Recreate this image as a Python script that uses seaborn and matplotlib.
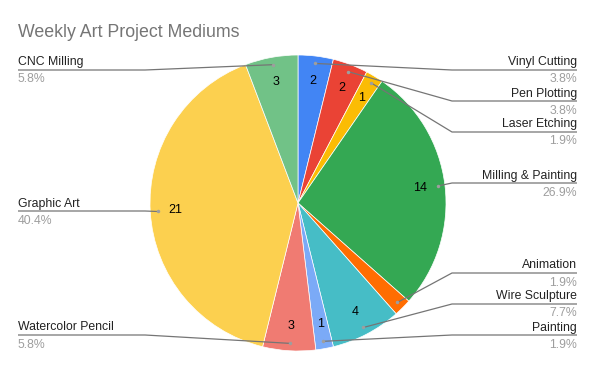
import numpy as np
import matplotlib
matplotlib.use('Agg')
import matplotlib.pyplot as plt
import seaborn as sns

sns.set_style('white')
plt.rcParams['font.family'] = ['Liberation Sans', 'DejaVu Sans']

# data
mediums = ['Vinyl Cutting', 'Pen Plotting', 'Laser Etching', 'Milling & Painting',
           'Animation', 'Wire Sculpture', 'Painting', 'Watercolor Pencil',
           'Graphic Art', 'CNC Milling']
counts = [2, 2, 1, 14, 1, 4, 1, 3, 21, 3]
value_labels = ['2', '2', '1', '14', '', '4', '1', '3', '21', '3']
colors = ['#4285F4', '#EA4335', '#FBBC04', '#34A853', '#FF6D01',
          '#46BDC6', '#7BAAF7', '#F07B72', '#FCD04F', '#71C287']

# layout of the callouts (side, y of the underline)
sides = ['R', 'R', 'R', 'R', 'R', 'R', 'R', 'L', 'L', 'L']
line_y = [70, 101, 132, 183, 273, 304, 335, 335, 211, 70]

fig = plt.figure(figsize=(5.96, 3.69), dpi=100)
ax = fig.add_axes([0, 0, 1, 1])

cx, cy, R = 298, 203, 148
wedges, _ = ax.pie(counts, colors=sns.color_palette(colors), center=(cx, cy), radius=R,
                   startangle=-90, counterclock=True,
                   wedgeprops=dict(edgecolor='white', linewidth=0.5))
ax.set_xlim(0, 596)
ax.set_ylim(369, 0)
ax.set_aspect('equal')
ax.axis('off')

total = sum(counts)
for w, name, n, vl, side, ly in zip(wedges, mediums, counts, value_labels, sides, line_y):
    mid = np.deg2rad((w.theta1 + w.theta2) / 2)
    # value inside slice
    if vl:
        ax.text(cx + 0.83 * R * np.cos(mid), cy + 0.83 * R * np.sin(mid), vl,
                ha='center', va='center', fontsize=9, color='#000000')
    # callout
    dx, dy = cx + 0.95 * R * np.cos(mid), cy + 0.95 * R * np.sin(mid)
    if side == 'R':
        xs = [dx, 452, 577]
        tx, ha = 577, 'right'
    else:
        xs = [dx, 145, 18]
        tx, ha = 18, 'left'
    ax.plot(xs, [dy, ly, ly], color='#757575', lw=0.9, solid_capstyle='butt')
    ax.plot(dx, dy, 'o', ms=2.5, color='#9e9e9e', mec='none')
    ax.text(tx, ly - 4.5, name, ha=ha, va='baseline', fontsize=8.8, color='#222222')
    ax.text(tx, ly + 12.5, f'{n / total * 100:.1f}%', ha=ha, va='baseline',
            fontsize=8.8, color='#9e9e9e')

fig.text(18 / 596, 1 - 36.7 / 369, 'Weekly Art Project Mediums', ha='left', va='baseline',
         fontsize=12.8, color='#757575')

fig.savefig('out.png', dpi=100)
